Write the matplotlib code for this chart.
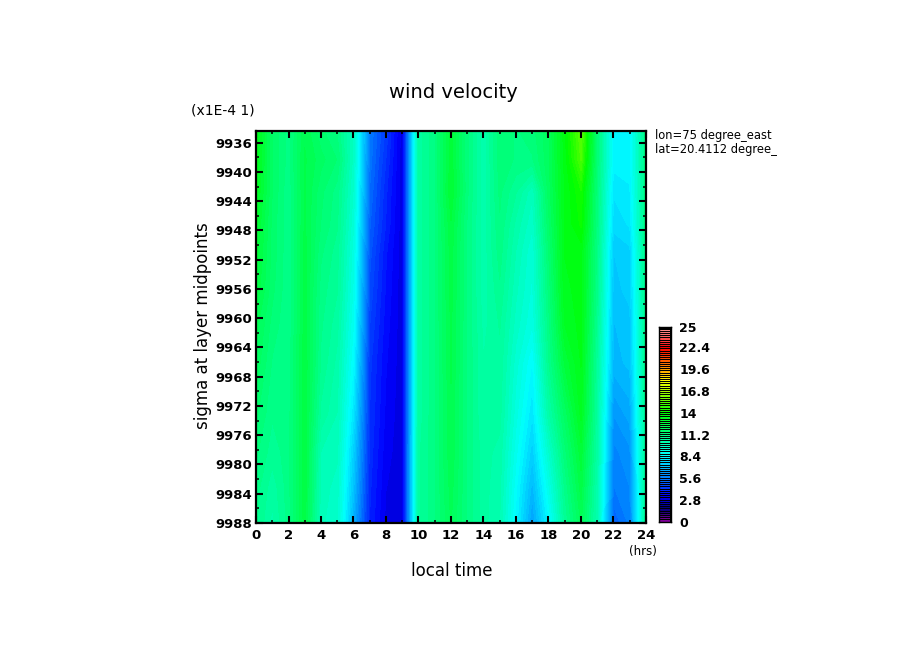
import numpy as np
import matplotlib
matplotlib.use("Agg")
import matplotlib.pyplot as plt
from matplotlib.colors import LinearSegmentedColormap, BoundaryNorm

W, H = 904, 654
hours = np.arange(0, 25)
sigma = [9934.4, 9938.3, 9942.7, 9947.2, 9950.9, 9956.1, 9960.9, 9966.1, 9973.0, 9978.3, 9983.1, 9988.0]
wind = [
    [13.5,11.8,11.1,12.3,11.6,11.2,9.7,5.6,4.4,2.9,10.5,11.2,12.8,11.3,10.2,11.4,11.2,11.4,12.0,13.7,15.5,11.4,8.3,8.2,11.2],
    [13.5,11.8,11.1,12.4,11.9,11.5,9.7,5.5,4.2,2.9,10.5,11.2,12.8,11.3,10.2,11.4,11.2,11.2,12.0,13.6,15.2,11.4,8.3,8.3,11.2],
    [13.3,11.8,11.0,12.4,11.6,11.1,9.5,5.3,4.0,2.9,10.5,11.2,12.9,11.3,10.2,11.3,10.7,9.9,11.9,13.5,14.3,11.3,7.9,8.1,11.2],
    [13.0,11.7,11.0,12.4,11.5,11.0,9.3,5.1,3.9,2.9,10.5,11.2,12.6,11.2,10.2,11.2,10.3,9.6,11.7,13.5,14.1,11.2,7.7,7.9,11.2],
    [12.8,11.7,11.0,12.5,11.3,10.8,9.1,4.9,3.7,2.9,10.5,11.2,12.5,11.2,10.2,11.1,10.1,9.3,11.5,13.5,13.6,11.1,7.3,7.5,11.1],
    [12.6,11.6,11.0,12.5,11.1,10.7,8.9,4.7,3.6,2.9,10.5,11.2,12.5,11.2,10.2,10.9,9.9,9.2,11.3,13.4,13.6,11.0,7.2,7.4,11.1],
    [12.2,11.4,11.0,12.5,11.0,10.5,8.7,4.5,3.5,2.9,10.5,11.2,12.4,11.2,10.3,10.7,9.7,9.0,11.1,13.2,13.6,10.8,7.0,7.2,11.0],
    [12.0,11.2,11.0,12.6,10.9,10.3,8.4,4.3,3.4,2.9,10.5,11.2,12.4,11.2,10.4,10.6,9.4,8.4,10.9,12.7,13.5,10.6,6.9,7.1,11.0],
    [11.6,11.0,11.1,12.6,10.6,10.1,7.9,4.2,3.3,2.9,10.5,11.2,12.3,11.2,10.4,10.5,9.1,7.9,10.3,11.9,13.3,10.5,6.2,6.6,10.9],
    [11.3,10.8,11.1,12.6,10.1,9.9,7.4,4.1,3.2,2.9,10.6,11.2,12.3,11.2,10.5,10.3,8.8,7.4,9.5,11.4,12.8,10.4,5.8,6.1,10.9],
    [11.1,10.5,11.1,12.6,10.0,9.7,7.1,4.0,3.1,2.9,10.6,11.2,12.2,11.2,10.5,10.2,8.5,6.9,8.9,11.0,12.5,10.2,5.6,5.9,10.8],
    [11.0,10.3,11.1,12.5,9.9,9.6,6.7,3.9,3.0,2.9,10.6,11.2,12.1,11.2,10.5,10.1,8.3,6.4,8.3,10.7,12.1,10.1,5.1,5.7,10.8],
]
cmap_values = [0, 1, 1.6, 3.2, 5.6, 8.4, 11.2, 14, 16.8, 18.2, 19.6, 22.4, 23.6, 24.8, 25]
cmap_colors = ["#800099", "#2a0080", "#000080", "#0000ff", "#0080ff", "#00ffff", "#00ff80",
               "#00ff00", "#aaff00", "#ffff00", "#ff9900", "#ff0000", "#ff5050", "#ff9090", "#000000"]
x_ticks = np.arange(0, 25, 2)
y_ticks = np.arange(9936, 9989, 4)
cbar_ticks = [0, 2.8, 5.6, 8.4, 11.2, 14, 16.8, 19.6, 22.4, 25]
cbar_labels = ["0", "2.8", "5.6", "8.4", "11.2", "14", "16.8", "19.6", "22.4", "25"]
levels = np.arange(0, 25.01, 25 / 89)

cmap = LinearSegmentedColormap.from_list("gtool", [(v / 25, c) for v, c in zip(cmap_values, cmap_colors)], N=512)
norm = BoundaryNorm(levels, cmap.N)

fig = plt.figure(figsize=(W / 100, H / 100), dpi=100, facecolor="white")
plt.rcParams["font.family"] = "DejaVu Sans"

def axes_px(l, t, r, b):
    return fig.add_axes([l / W, 1 - b / H, (r - l) / W, (b - t) / H])

ax = axes_px(256, 131, 646, 523)
cs = ax.contourf(hours, sigma, np.array(wind), levels=levels, cmap=cmap, norm=norm, antialiased=False)
ax.set_xlim(0, 24)
ax.set_ylim(9988, 9934.4)
ax.set_xticks(x_ticks)
ax.set_xticks(np.arange(0, 25), minor=True)
ax.set_yticks(y_ticks)
ax.set_yticks(np.arange(9938, 9989, 4), minor=True)
ax.tick_params(which="major", direction="in", top=True, right=True, length=5, width=1.5, labelsize=9.5, colors="black")
ax.tick_params(axis="y", which="major", pad=3)
ax.tick_params(axis="x", which="major", pad=4)
ax.tick_params(which="minor", direction="in", top=True, right=True, length=2.5, width=1.1)
for lab in ax.get_xticklabels() + ax.get_yticklabels():
    lab.set_fontweight("bold")
for s in ax.spines.values():
    s.set_linewidth(1.6)

fig.text(453 / W, 1 - 92 / H, "wind velocity", ha="center", va="center", fontsize=14)
fig.text(452 / W, 1 - 571 / H, "local time", ha="center", va="center", fontsize=12)
fig.text(203 / W, 1 - 326 / H, "sigma at layer midpoints", ha="center", va="center", rotation=90, fontsize=12)
fig.text(191 / W, 1 - 111 / H, "(x1E-4 1)", ha="left", va="center", fontsize=10)
fig.text(643 / W, 1 - 551 / H, "(hrs)", ha="center", va="center", fontsize=8.5)
fig.text(655 / W, 1 - 135 / H, "lon=75 degree_east", ha="left", va="center", fontsize=8.3)
fig.text(655 / W, 1 - 150 / H, "lat=20.4112 degree_", ha="left", va="center", fontsize=8.3)

cax = axes_px(659, 327, 671, 522)
cax.set_facecolor("black")
mids = 0.5 * (levels[:-1] + levels[1:])
cax.barh(mids, np.ones_like(mids) * 0.86, left=0.07, height=(levels[1] - levels[0]) * 0.55,
         color=cmap(norm(mids)), antialiased=False)
cax.set_xlim(0, 1)
cax.set_ylim(0, 25)
cax.set_xticks([])
cax.yaxis.tick_right()
cax.set_yticks(cbar_ticks)
cax.set_yticklabels(cbar_labels, fontsize=9, fontweight="bold")
cax.tick_params(axis="y", length=0, pad=6)
for s in cax.spines.values():
    s.set_linewidth(1.0)

fig.savefig("out.png", dpi=100, facecolor="white")
